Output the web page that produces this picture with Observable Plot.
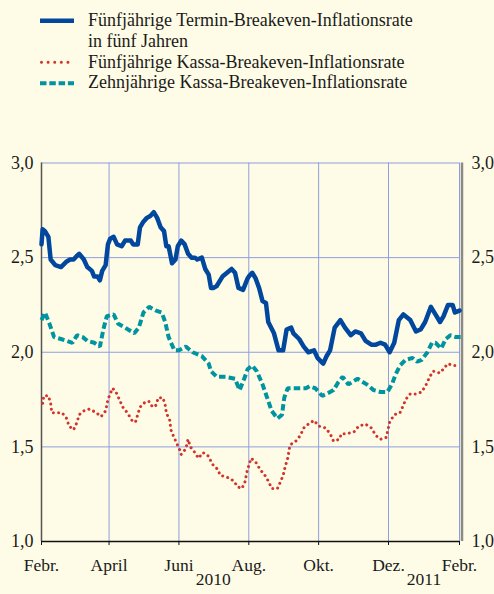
<!DOCTYPE html>
<html>
<head>
<meta charset="utf-8">
<script src="https://cdn.jsdelivr.net/npm/d3@7"></script>
<script src="https://cdn.jsdelivr.net/npm/@observablehq/plot@0.6"></script>
<style>
  html, body { margin: 0; padding: 0; background: #fefce6; }
  #chart svg { display: block; }
</style>
</head>
<body>
<div id="wrap" style="position:relative;width:494px;height:594px;overflow:hidden;background:#fefce6;font-family:'Liberation Serif', serif;color:#1a1a1a">
  <div id="legend" style="position:relative;width:494px;height:130px"></div>
  <div id="chart"></div>
</div>
<script>
// ---- data (day offsets from 1 Feb 2010, values in %) ----
const startDate = new Date(Date.UTC(2010, 1, 1));
const endDate = new Date(Date.UTC(2011, 1, 1));

const seriesNames = [
  "Fünfjährige Termin-Breakeven-Inflationsrate\nin fünf Jahren",
  "Fünfjährige Kassa-Breakeven-Inflationsrate",
  "Zehnjährige Kassa-Breakeven-Inflationsrate"
];

const forwardDays = [0,1,3,6,8,12,17,22,25,28,31,33,37,40,44,46,49,51,53,56,58,60,63,66,70,73,78,80,84,86,89,92,95,98,101,104,107,109,111,114,117,119,122,125,128,131,134,136,140,143,146,148,150,153,158,162,166,169,172,176,180,181,184,187,190,193,196,198,203,207,211,214,218,220,225,229,233,238,241,246,249,252,256,261,265,270,274,279,283,288,292,296,300,304,308,312,316,322,327,331,335,340,344,348,351,355,359,361,365];
const forwardValues = [2.57,2.65,2.64,2.61,2.49,2.46,2.45,2.48,2.49,2.49,2.51,2.52,2.49,2.45,2.43,2.40,2.40,2.38,2.43,2.46,2.57,2.60,2.61,2.57,2.56,2.59,2.59,2.57,2.57,2.66,2.69,2.71,2.72,2.74,2.71,2.66,2.64,2.56,2.56,2.47,2.49,2.56,2.59,2.57,2.52,2.50,2.50,2.49,2.50,2.44,2.41,2.34,2.34,2.35,2.40,2.42,2.44,2.42,2.34,2.33,2.39,2.40,2.42,2.39,2.34,2.27,2.26,2.16,2.10,2.01,2.01,2.12,2.13,2.10,2.07,2.03,2.00,2.01,1.97,1.94,1.98,2.01,2.13,2.17,2.13,2.09,2.11,2.10,2.06,2.04,2.04,2.05,2.04,2.00,2.05,2.17,2.20,2.17,2.11,2.12,2.16,2.24,2.20,2.16,2.19,2.25,2.25,2.21,2.22];

const spot5Days = [1,2,6,8,9,14,18,22,24,28,31,33,37,42,48,52,56,58,62,65,68,71,75,79,82,84,86,91,94,97,100,102,106,108,109,112,113,115,118,121,122,126,128,130,134,137,141,146,149,154,156,162,168,171,175,178,179,181,183,187,191,195,198,201,206,209,211,213,215,217,222,226,229,233,238,242,248,252,255,260,262,267,273,277,283,288,292,296,301,304,308,313,316,318,322,327,332,336,339,342,348,352,355,359,364];
const spot5Values = [1.73,1.77,1.77,1.73,1.68,1.68,1.68,1.65,1.61,1.59,1.63,1.67,1.69,1.70,1.68,1.66,1.69,1.75,1.81,1.79,1.75,1.71,1.68,1.64,1.63,1.67,1.71,1.74,1.74,1.71,1.72,1.76,1.76,1.72,1.68,1.64,1.59,1.56,1.52,1.48,1.46,1.49,1.54,1.50,1.47,1.44,1.47,1.45,1.41,1.38,1.35,1.34,1.32,1.29,1.28,1.32,1.36,1.40,1.44,1.42,1.38,1.35,1.32,1.28,1.28,1.32,1.35,1.40,1.44,1.51,1.53,1.56,1.60,1.62,1.64,1.61,1.60,1.57,1.53,1.54,1.57,1.57,1.58,1.61,1.62,1.60,1.56,1.54,1.55,1.63,1.67,1.68,1.72,1.75,1.78,1.78,1.79,1.83,1.87,1.90,1.89,1.92,1.94,1.93,1.93];

const spot10Days = [0,3,7,11,17,22,27,31,36,40,46,51,54,57,63,67,73,81,85,89,94,100,105,108,111,116,120,126,132,140,146,148,153,161,169,173,177,180,184,188,193,197,201,206,210,212,215,220,226,231,234,239,245,249,255,259,263,268,276,284,290,296,302,306,309,313,318,324,328,332,337,341,344,349,353,357,362,366];
const spot10Values = [2.17,2.21,2.15,2.08,2.07,2.06,2.05,2.09,2.08,2.06,2.05,2.03,2.12,2.19,2.20,2.15,2.13,2.10,2.13,2.21,2.24,2.22,2.21,2.16,2.08,2.01,2.01,2.03,2.00,1.98,1.94,1.90,1.87,1.87,1.86,1.80,1.86,1.91,1.93,1.90,1.83,1.76,1.69,1.65,1.67,1.76,1.81,1.81,1.81,1.81,1.82,1.81,1.77,1.78,1.80,1.84,1.87,1.83,1.86,1.83,1.80,1.79,1.79,1.83,1.88,1.93,1.96,1.97,1.95,1.96,2.00,2.05,2.05,2.02,2.07,2.09,2.08,2.08];

const monthTickDates = ["2010-02-01","2010-04-01","2010-06-01","2010-08-01","2010-10-01","2010-12-01","2011-02-01"];
const monthTickLabels = ["Febr.","April","Juni","Aug.","Okt.","Dez.","Febr."];
const yearLabelDates = ["2010-07-01","2011-01-01"];
const yearLabels = ["2010","2011"];
const yTicks = [1.0, 1.5, 2.0, 2.5, 3.0];
const yTickLabels = ["1,0","1,5","2,0","2,5","3,0"];
const gridYValues = [1.5, 2.0, 2.5, 3.0];

const colors = { forward: "#00479d", spot5: "#d0352b", spot10: "#0094a0" };

// ---- build tables ----
const toDate = d => d3.utcDay.offset(startDate, d);
const forward = forwardDays.map((d, i) => ({ date: toDate(d), value: forwardValues[i] }));
const spot5 = spot5Days.map((d, i) => ({ date: toDate(d), value: spot5Values[i] }));
const spot10 = spot10Days.map((d, i) => ({ date: toDate(d), value: spot10Values[i] }));
const monthTicks = monthTickDates.map(s => new Date(s + "T00:00:00Z"));
const monthLabelMap = new Map(monthTicks.map((d, i) => [+d, monthTickLabels[i]]));
const years = yearLabelDates.map((s, i) => ({ date: new Date(s + "T00:00:00Z"), label: yearLabels[i] }));
const yLabelMap = new Map(yTicks.map((v, i) => [v, yTickLabels[i]]));

const serif = "'Liberation Serif', serif";

// ---- legend ----
const legend = document.getElementById("legend");
const ls = d3.create("svg").attr("width", 90).attr("height", 100)
  .style("position", "absolute").style("left", "0px").style("top", "0px");
ls.append("line").attr("x1", 40).attr("x2", 74).attr("y1", 20.7).attr("y2", 20.7)
  .attr("stroke", colors.forward).attr("stroke-width", 4.5);
ls.append("line").attr("x1", 41.5).attr("x2", 74).attr("y1", 62.3).attr("y2", 62.3)
  .attr("stroke", colors.spot5).attr("stroke-width", 3).attr("stroke-linecap", "round").attr("stroke-dasharray", "0.01 6.6");
ls.append("line").attr("x1", 40).attr("x2", 74).attr("y1", 83.3).attr("y2", 83.3)
  .attr("stroke", colors.spot10).attr("stroke-width", 4).attr("stroke-dasharray", "6.5 2.8");
legend.appendChild(ls.node());
const txt = document.createElement("div");
txt.style.cssText = "position:absolute;left:88px;top:10px;font-family:'Liberation Serif', serif;font-size:18px;line-height:20.8px;white-space:nowrap;color:#1a1a1a";
txt.innerHTML = [seriesNames[0].replace("\n", "<br>"), seriesNames[1], seriesNames[2]].join("<br>");
legend.appendChild(txt);

// ---- chart ----
const gridColor = "#8e9ee0";
const chart = Plot.plot({
  width: 494,
  height: 464,
  marginTop: 32.5,
  marginBottom: 53,
  marginLeft: 41,
  marginRight: 35,
  style: { background: "transparent", fontFamily: serif, fontSize: "18px", color: "#1a1a1a" },
  x: { type: "utc", domain: [startDate, endDate], axis: null },
  y: { domain: [1, 3], axis: null },
  marks: [
    Plot.ruleY(gridYValues, { stroke: gridColor, strokeWidth: 1 }),
    Plot.ruleX(monthTicks.slice(1), { stroke: gridColor, strokeWidth: 1 }),
    Plot.ruleX([startDate], { stroke: "#555", strokeWidth: 1.5 }),
    Plot.ruleX([endDate], { stroke: "#8a8a8a", strokeWidth: 2.5, dx: 2.5 }),
    Plot.ruleY([1], { stroke: "#111", strokeWidth: 1.5 }),
    Plot.axisX({ ticks: monthTicks, tickSize: 4, tickPadding: 13, stroke: "#111", label: null,
                 tickFormat: d => monthLabelMap.get(+d), fontSize: 17.5, fontFamily: serif }),
    Plot.axisY({ anchor: "left", ticks: yTicks, tickSize: 0, tickPadding: 8, label: null,
                 tickFormat: v => yLabelMap.get(v), fontSize: 18, fontFamily: serif }),
    Plot.axisY({ anchor: "right", ticks: yTicks, tickSize: 0, tickPadding: 12, label: null,
                 tickFormat: v => yLabelMap.get(v), fontSize: 18, fontFamily: serif }),
    Plot.text(years, { x: "date", text: "label", frameAnchor: "bottom", dy: 43, fontSize: 17.5, fill: "#1a1a1a", fontFamily: serif }),
    Plot.line(spot5, { x: "date", y: "value", stroke: colors.spot5, strokeWidth: 3, strokeLinecap: "round", strokeDasharray: "0.01 5.2" }),
    Plot.line(spot10, { x: "date", y: "value", stroke: colors.spot10, strokeWidth: 4, strokeLinecap: "butt", strokeLinejoin: "miter", strokeDasharray: "6.5 3.2" }),
    Plot.line(forward, { x: "date", y: "value", stroke: colors.forward, strokeWidth: 4.5, strokeLinejoin: "round" })
  ]
});
document.getElementById("chart").appendChild(chart);
</script>
</body>
</html>
